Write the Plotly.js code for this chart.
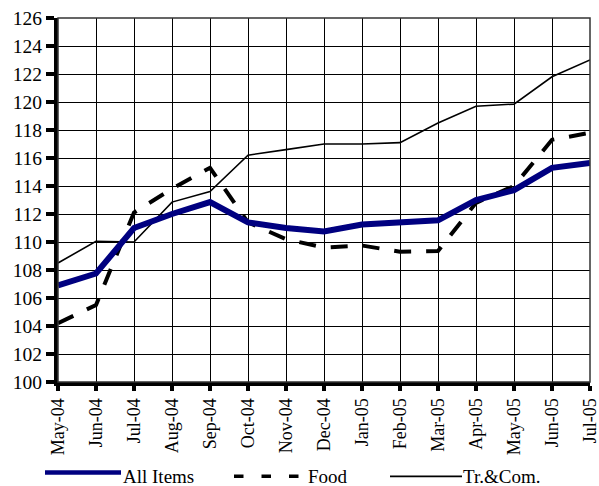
<!DOCTYPE html>
<html>
<head>
<meta charset="utf-8">
<script src="https://cdn.plot.ly/plotly-3.0.1.min.js"></script>
<style>html,body{margin:0;padding:0;background:#fff;}#chart{width:599px;height:486px;}</style>
</head>
<body>
<div id="chart"></div>
<script>
const months = ["May-04","Jun-04","Jul-04","Aug-04","Sep-04","Oct-04","Nov-04","Dec-04","Jan-05","Feb-05","Mar-05","Apr-05","May-05","Jun-05","Jul-05"];
const allItems = [106.9,107.75,111.0,112.0,112.85,111.4,111.0,110.75,111.25,111.35,111.55,113.0,113.7,115.3,115.65];
const food = [104.2,105.5,112.1,113.8,115.3,111.4,110.2,109.6,109.75,109.3,109.35,112.8,114.0,117.3,117.8];
const trCom = [108.5,110.05,110.0,112.85,113.6,116.2,116.6,117.0,117.0,117.1,118.5,119.7,119.85,121.8,123.0];
const seriesNames = ["All Items","Food","Tr.&Com."];
const yTicks = [100,102,104,106,108,110,112,114,116,118,120,122,124,126];

const L = 58, R = 9, T = 18, B = 103.5;
const W = 599, H = 486;
const pw = W - L - R, ph = H - T - B;
const px = x => (x - L) / pw;
const py = y => (H - B - y) / ph;

const fam = "Liberation Serif";
const legendFont = {family: fam, size: 19, color: "#000"};
const xFont = {family: fam, size: 18, color: "#000"};
const yFont = {family: fam, size: 19.5, color: "#000"};

const traces = [
  {x: months, y: trCom, name: seriesNames[2], type: "scatter", mode: "lines", line: {color: "#000", width: 1.6}},
  {x: months, y: food, name: seriesNames[1], type: "scatter", mode: "lines", line: {color: "#000", width: 4, dash: "17px,15px"}},
  {x: months, y: allItems, name: seriesNames[0], type: "scatter", mode: "lines", line: {color: "#000080", width: 6}}
];

const shapes = [
  {type: "rect", xref: "paper", yref: "paper", x0: 0, x1: 1, y0: 0, y1: 1, line: {color: "#333", width: 1.5}},
  {type: "line", xref: "paper", yref: "paper", x0: px(45), x1: px(121), y0: py(473), y1: py(473), line: {color: "#000080", width: 4.5}},
  {type: "line", xref: "paper", yref: "paper", x0: px(234), x1: px(300), y0: py(477), y1: py(477), line: {color: "#000", width: 3.5, dash: "9.5px,18px"}},
  {type: "line", xref: "paper", yref: "paper", x0: px(390), x1: px(462), y0: py(477), y1: py(477), line: {color: "#000", width: 1.6}}
];
const annotations = [
  {xref: "paper", yref: "paper", x: px(120.7), y: py(477), xanchor: "left", yanchor: "middle", text: seriesNames[0], showarrow: false, font: legendFont},
  {xref: "paper", yref: "paper", x: px(306.3), y: py(477), xanchor: "left", yanchor: "middle", text: seriesNames[1], showarrow: false, font: legendFont},
  {xref: "paper", yref: "paper", x: px(461.3), y: py(477), xanchor: "left", yanchor: "middle", text: seriesNames[2], showarrow: false, font: legendFont}
];

const layout = {
  width: W, height: H,
  margin: {l: L, r: R, t: T, b: B, pad: 0},
  paper_bgcolor: "#fff", plot_bgcolor: "#fff",
  font: legendFont,
  showlegend: false,
  xaxis: {
    type: "category", range: [0, 14], tickangle: -90,
    showgrid: true, gridcolor: "#000", gridwidth: 1,
    showline: true, linecolor: "#000", linewidth: 4,
    ticks: "outside", ticklen: 5, tickwidth: 4, tickcolor: "#000",
    tickfont: xFont, zeroline: false, fixedrange: true
  },
  yaxis: {
    range: [100, 126], tickvals: yTicks, ticktext: yTicks.map(String),
    showgrid: true, gridcolor: "#000", gridwidth: 1,
    showline: true, linecolor: "#000", linewidth: 4,
    ticks: "outside", ticklen: 8, tickwidth: 4, tickcolor: "#000",
    tickfont: yFont, zeroline: false, fixedrange: true
  },
  shapes: shapes,
  annotations: annotations
};

Plotly.newPlot("chart", traces, layout, {displayModeBar: false, staticPlot: true});
</script>
</body>
</html>
